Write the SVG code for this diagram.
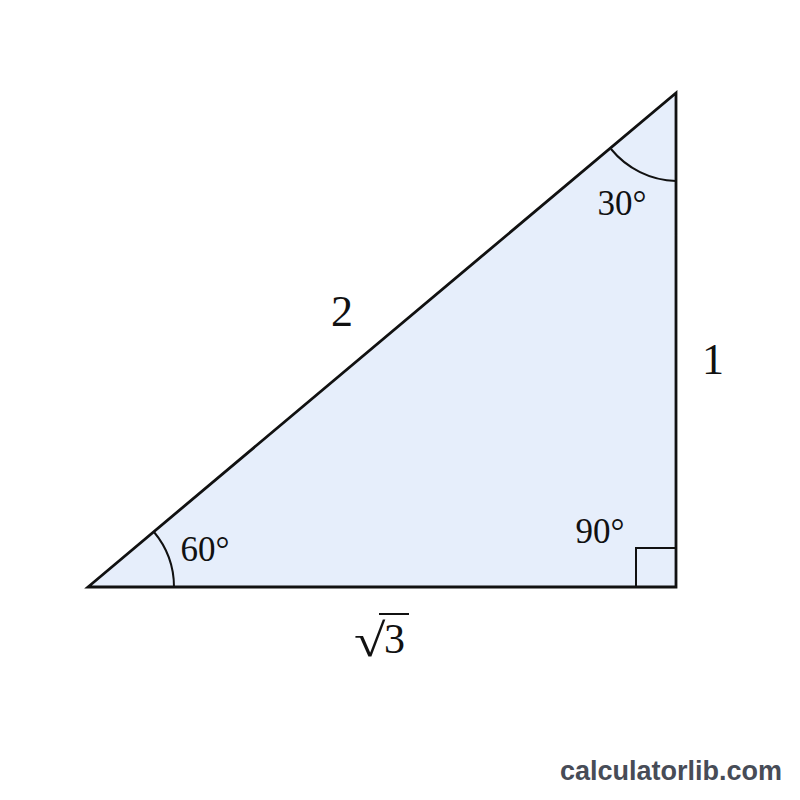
<svg xmlns="http://www.w3.org/2000/svg" width="800" height="800" viewBox="0 0 800 800">
<style>
.lbl{font-family:"Liberation Serif","Times New Roman",serif;fill:#111}
.ang{font-size:35px}
.side{font-size:44px}
.thin{fill:none;stroke:#111;stroke-width:2}
.brand{font-family:"Liberation Sans",Arial,sans-serif;font-weight:bold;font-size:27px;fill:#474c57}
</style>
<rect width="800" height="800" fill="#ffffff"/>
<g id="triangle">
<polygon points="88,587 676,587 676,93" fill="#e6eefb" stroke="#111" stroke-width="2.8" stroke-linejoin="miter"/>
</g>
<g id="connectors">
<path class="thin" d="M611,149 A87,87 0 0 0 676,181"/>
<path class="thin" d="M154,532 A86,86 0 0 1 174,587"/>
<path class="thin" d="M636,587 L636,548 L676,548"/>
<line class="thin" x1="379" y1="614" x2="409" y2="614"/>
</g>
<g id="angle-30"><text class="lbl ang" x="622" y="215" text-anchor="middle">30°</text></g>
<g id="angle-60"><text class="lbl ang" x="205" y="561" text-anchor="middle">60°</text></g>
<g id="angle-90"><text class="lbl ang" x="600" y="543" text-anchor="middle">90°</text></g>
<g id="side-2"><text class="lbl side" x="342" y="326" text-anchor="middle">2</text></g>
<g id="side-1"><text class="lbl side" x="713" y="374" text-anchor="middle">1</text></g>
<g id="side-sqrt3">
<text class="lbl" font-size="44" transform="translate(354,656) scale(1.3,1.05)">√</text>
<text class="lbl" font-size="42" x="384" y="653">3</text>
</g>
<g id="brand"><text class="brand" x="782" y="780" text-anchor="end">calculatorlib.com</text></g>
</svg>
